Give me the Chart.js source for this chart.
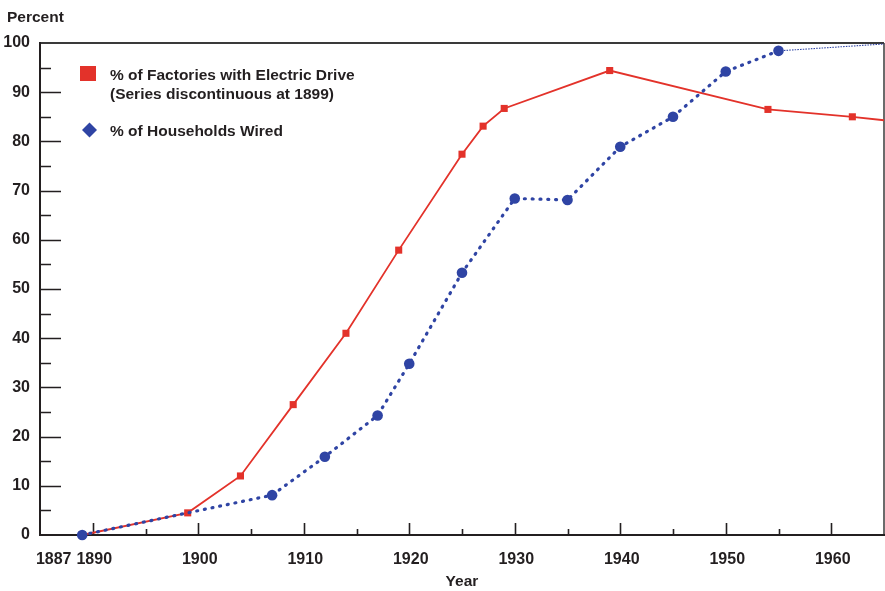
<!DOCTYPE html>
<html>
<head>
<meta charset="utf-8">
<title>Electrification of factories and households</title>
<script src="https://cdn.jsdelivr.net/npm/chart.js@4.4.1/dist/chart.umd.min.js"></script>
<style>
  html, body { margin: 0; padding: 0; background: #ffffff; }
  canvas { display: block; }
</style>
</head>
<body>
<canvas id="chart" width="885" height="591"></canvas>
<script>
// Share of factory horsepower with electric drive (percent)
const factoryYears = [1889, 1899, 1904, 1909, 1914, 1919, 1925, 1927, 1929, 1939, 1954, 1962, 1965];
const factoryShare = [0, 4.5, 12.0, 26.5, 41.0, 57.9, 77.4, 83.1, 86.7, 94.4, 86.5, 85.0, 84.3];

// Share of households wired for electricity (percent)
const householdYears = [1889, 1907, 1912, 1917, 1920, 1925, 1930, 1935, 1940, 1945, 1950, 1955];
const householdShare = [0, 8.1, 15.9, 24.3, 34.8, 53.3, 68.4, 68.1, 78.9, 85.0, 94.2, 98.4];

// Later household figures, shown as a light continuation
const householdLateYears = [1955, 1965];
const householdLateShare = [98.4, 99.8];

// Axis labels
const yearTicks = [1887, 1890, 1900, 1910, 1920, 1930, 1940, 1950, 1960];
const percentTicks = [0, 10, 20, 30, 40, 50, 60, 70, 80, 90, 100];

const legendFactories = ['% of Factories with Electric Drive', '(Series discontinuous at 1899)'];
const legendHouseholds = ['% of Households Wired'];

const RED = '#E3322A';
const BLUE = '#2F44A4';
const INK = '#231F20';
const FONT = '"Liberation Sans", Arial, Helvetica, sans-serif';

const toPoints = (xs, ys) => xs.map((x, i) => ({ x: x, y: ys[i] }));

// The first year label sits a little left so it clears its neighbour
const yearLabel = v => (v === yearTicks[0] ? String(v) + '    ' : String(v));

// Axes, inward tick marks and the open frame, drawn under the data
const framePlugin = {
  id: 'frame',
  beforeDatasetsDraw(chart) {
    const { ctx, chartArea: { left, right, top, bottom }, scales: { x, y } } = chart;
    ctx.save();
    ctx.strokeStyle = INK;
    ctx.lineCap = 'butt';

    ctx.lineWidth = 1.6;
    ctx.beginPath();
    for (let v = 5; v < 100; v += 5) {
      const py = Math.round(y.getPixelForValue(v)) + 0.5;
      const len = v % 10 === 0 ? 21 : 11;
      ctx.moveTo(left, py);
      ctx.lineTo(left + len, py);
    }
    for (let yr = 1890; yr <= 1960; yr += 5) {
      const px = Math.round(x.getPixelForValue(yr)) + 0.5;
      const len = yr % 10 === 0 ? 12 : 6;
      ctx.moveTo(px, bottom);
      ctx.lineTo(px, bottom - len);
    }
    ctx.stroke();

    // top and right frame
    ctx.strokeStyle = '#3a3a3a';
    ctx.lineWidth = 2;
    ctx.beginPath();
    ctx.moveTo(left, top);
    ctx.lineTo(right, top);
    ctx.stroke();
    ctx.lineWidth = 1.5;
    ctx.beginPath();
    ctx.moveTo(right, top);
    ctx.lineTo(right, bottom);
    ctx.stroke();

    // main axes
    ctx.strokeStyle = INK;
    ctx.lineWidth = 2;
    ctx.beginPath();
    ctx.moveTo(left, top - 1);
    ctx.lineTo(left, bottom);
    ctx.lineTo(right + 1, bottom);
    ctx.stroke();
    ctx.restore();
  },
  afterDraw(chart) {
    const ctx = chart.ctx;
    ctx.save();
    ctx.fillStyle = INK;
    ctx.textAlign = 'left';
    ctx.textBaseline = 'alphabetic';
    ctx.font = 'bold 15.5px ' + FONT;
    ctx.fillText('Percent', 7, 21.5);

    // legend
    ctx.fillStyle = RED;
    ctx.fillRect(80, 66, 16, 15);
    ctx.fillStyle = BLUE;
    ctx.beginPath();
    ctx.moveTo(89.5, 122.5);
    ctx.lineTo(97, 130);
    ctx.lineTo(89.5, 137.5);
    ctx.lineTo(82, 130);
    ctx.closePath();
    ctx.fill();

    ctx.fillStyle = INK;
    ctx.fillText(legendFactories[0], 110, 79.5);
    ctx.fillText(legendFactories[1], 110, 98.5);
    ctx.fillText(legendHouseholds[0], 110, 136);
    ctx.restore();
  }
};

new Chart(document.getElementById('chart'), {
  type: 'line',
  data: {
    datasets: [
      {
        label: legendHouseholds[0],
        data: toPoints(householdYears, householdShare),
        borderColor: BLUE,
        backgroundColor: BLUE,
        borderWidth: 3.2,
        borderDash: [1, 6.8],
        borderCapStyle: 'round',
        pointStyle: 'circle',
        pointRadius: 5.3,
        pointBackgroundColor: BLUE,
        pointBorderWidth: 0,
        tension: 0,
        clip: 10
      },
      {
        label: 'late households',
        data: toPoints(householdLateYears, householdLateShare),
        borderColor: BLUE,
        borderWidth: 1.1,
        borderDash: [1.5, 1.2],
        pointRadius: 0,
        tension: 0,
        clip: 10
      },
      {
        label: legendFactories[0],
        data: toPoints(factoryYears, factoryShare),
        borderColor: RED,
        backgroundColor: RED,
        borderWidth: 1.8,
        pointStyle: 'rect',
        pointRadius: ctx => (ctx.dataIndex === factoryYears.length - 1 ? 0 : 5),
        pointBackgroundColor: RED,
        pointBorderWidth: 0,
        tension: 0,
        clip: 10
      }
    ]
  },
  options: {
    responsive: false,
    devicePixelRatio: 1,
    animation: false,
    events: [],
    layout: { autoPadding: false, padding: { top: 43, right: 1, bottom: 0, left: 0 } },
    plugins: {
      legend: { display: false },
      tooltip: { enabled: false },
      title: { display: false }
    },
    scales: {
      x: {
        type: 'linear',
        min: 1885,
        max: 1965,
        afterBuildTicks: scale => { scale.ticks = yearTicks.map(v => ({ value: v })); },
        afterFit: scale => {
          scale.height = 56;
          scale.paddingLeft = 0;
          scale.paddingRight = 0;
        },
        grid: { display: false, drawTicks: false },
        border: { display: false },
        ticks: {
          color: INK,
          font: { family: FONT, size: 16, weight: 'bold' },
          padding: 15,
          labelOffset: 1.5,
          maxRotation: 0,
          autoSkip: false,
          callback: yearLabel
        },
        title: {
          display: true,
          text: 'Year',
          color: INK,
          font: { family: FONT, size: 15.5, weight: 'bold' },
          padding: { top: 0, bottom: 0 }
        }
      },
      y: {
        type: 'linear',
        min: 0,
        max: 100,
        afterBuildTicks: scale => { scale.ticks = percentTicks.map(v => ({ value: v })); },
        afterFit: scale => {
          scale.width = 40;
          scale.paddingTop = 0;
          scale.paddingBottom = 0;
        },
        grid: { display: false, drawTicks: false },
        border: { display: false },
        ticks: {
          color: INK,
          font: { family: FONT, size: 16, weight: 'bold' },
          padding: 10,
          crossAlign: 'near',
          callback: v => String(v)
        }
      }
    }
  },
  plugins: [framePlugin]
});
</script>
</body>
</html>
